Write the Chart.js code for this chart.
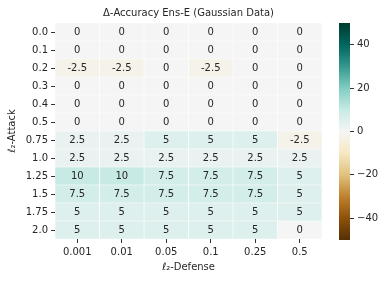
<!DOCTYPE html>
<html>
<head>
<meta charset="utf-8">
<script src="https://cdn.jsdelivr.net/npm/chart.js@4"></script>
<style>
  body { margin: 0; background: #fff; }
  #wrap { position: relative; width: 385px; height: 282px; }
  #wrap canvas { position: absolute; left: 0; top: 0; }
</style>
</head>
<body>
<div id="wrap">
  <canvas id="heat" width="385" height="282"></canvas>
  <canvas id="cbar" width="385" height="282"></canvas>
</div>
<script>
const attackLabels = ["0.0", "0.1", "0.2", "0.3", "0.4", "0.5", "0.75", "1.0", "1.25", "1.5", "1.75", "2.0"];
const defenseLabels = ["0.001", "0.01", "0.05", "0.1", "0.25", "0.5"];

// delta accuracy, one row per attack strength
const deltaAcc = [
  [0, 0, 0, 0, 0, 0],
  [0, 0, 0, 0, 0, 0],
  [-2.5, -2.5, 0, -2.5, 0, 0],
  [0, 0, 0, 0, 0, 0],
  [0, 0, 0, 0, 0, 0],
  [0, 0, 0, 0, 0, 0],
  [2.5, 2.5, 5, 5, 5, -2.5],
  [2.5, 2.5, 2.5, 2.5, 2.5, 2.5],
  [10, 10, 7.5, 7.5, 7.5, 5],
  [7.5, 7.5, 7.5, 7.5, 7.5, 5],
  [5, 5, 5, 5, 5, 5],
  [5, 5, 5, 5, 5, 0],
];

const cbarTicks = [-40, -20, 0, 20, 40];
const vmin = -50, vmax = 50;

// BrBG anchors
const brbg = ["#543005", "#8c510a", "#bf812d", "#dfc27d", "#f6e8c3", "#f5f5f5",
              "#c7eae5", "#80cdc1", "#35978f", "#01665e", "#003c30"];

const textColor = "#262626";
const font = { family: "DejaVu Sans", size: 10 };

function hexRgb(h) {
  return [1, 3, 5].map(i => parseInt(h.slice(i, i + 2), 16));
}

function cmap(v) {
  let t = (v - vmin) / (vmax - vmin) * (brbg.length - 1);
  t = Math.min(Math.max(t, 0), brbg.length - 1);
  const i = Math.min(Math.floor(t), brbg.length - 2);
  const f = t - i;
  const a = hexRgb(brbg[i]), b = hexRgb(brbg[i + 1]);
  const c = a.map((x, k) => Math.round(x + (b[k] - x) * f));
  return `rgb(${c[0]}, ${c[1]}, ${c[2]})`;
}

const cellText = {
  id: "cellText",
  afterDatasetsDraw(chart) {
    const ctx = chart.ctx;
    ctx.save();
    ctx.font = '10px "DejaVu Sans"';
    ctx.fillStyle = textColor;
    ctx.textAlign = "center";
    ctx.textBaseline = "middle";
    chart.data.datasets.forEach((ds, c) => {
      chart.getDatasetMeta(c).data.forEach((bar, r) => {
        ctx.fillText(String(deltaAcc[r][c]), (bar.x + bar.base) / 2, bar.y);
      });
    });
    ctx.restore();
  }
};

new Chart(document.getElementById("heat"), {
  type: "bar",
  data: {
    labels: attackLabels,
    datasets: defenseLabels.map((d, c) => ({
      label: d,
      data: attackLabels.map(() => [c, c + 1]),
      backgroundColor: attackLabels.map((_, r) => cmap(deltaAcc[r][c])),
      borderColor: "#fff",
      borderWidth: 0.6,
      borderSkipped: false,
      grouped: false,
      barPercentage: 1,
      categoryPercentage: 1,
    })),
  },
  options: {
    indexAxis: "y",
    responsive: false,
    animation: false,
    layout: { padding: { right: 63 } },
    plugins: {
      legend: { display: false },
      tooltip: { enabled: false },
      title: {
        display: true,
        fullSize: false,
        text: "Δ-Accuracy Ens-E (Gaussian Data)",
        color: textColor,
        font: { family: "DejaVu Sans", size: 10, weight: "normal" },
        padding: { top: 7, bottom: 4 },
      },
    },
    scales: {
      x: {
        type: "linear",
        min: 0,
        max: defenseLabels.length,
        afterBuildTicks: s => { s.ticks = defenseLabels.map((_, i) => ({ value: i + 0.5 })); },
        afterFit: s => { s.height = 43; },
        grid: { drawOnChartArea: false, tickLength: 4, color: "#333" },
        border: { display: false },
        ticks: {
          autoSkip: false, maxRotation: 0, padding: 3, color: textColor, font,
          callback: v => defenseLabels[Math.floor(v)],
        },
        title: {
          display: true, text: "ℓ₂-Defense", color: textColor, font,
          padding: { top: 0, bottom: 9 },
        },
      },
      y: {
        afterFit: s => { s.width = 55; },
        grid: { offset: false, drawOnChartArea: false, tickLength: 4, color: "#333" },
        border: { display: false },
        ticks: { autoSkip: false, padding: 3, color: textColor, font },
        title: {
          display: true, text: "ℓ₂-Attack", color: textColor, font,
          padding: { top: 6, bottom: 0 },
        },
      },
    },
  },
  plugins: [cellText],
});

new Chart(document.getElementById("cbar"), {
  type: "bar",
  data: {
    labels: [""],
    datasets: [{
      data: [[vmin, vmax]],
      backgroundColor: ctx => {
        const y = ctx.chart.scales.y;
        const y0 = y ? y.getPixelForValue(vmin) : NaN;
        const y1 = y ? y.getPixelForValue(vmax) : NaN;
        if (!isFinite(y0) || !isFinite(y1)) return "#f5f5f5";
        const g = ctx.chart.ctx.createLinearGradient(0, y0, 0, y1);
        brbg.forEach((col, i) => g.addColorStop(i / (brbg.length - 1), col));
        return g;
      },
      borderWidth: 0,
      barPercentage: 1,
      categoryPercentage: 1,
    }],
  },
  options: {
    responsive: false,
    animation: false,
    layout: { padding: { left: 339, top: 23, bottom: 42 } },
    plugins: { legend: { display: false }, tooltip: { enabled: false } },
    scales: {
      x: { display: false },
      y: {
        position: "right",
        min: vmin,
        max: vmax,
        afterBuildTicks: s => { s.ticks = cbarTicks.map(v => ({ value: v })); },
        afterFit: s => { s.width = 35; },
        grid: { drawOnChartArea: false, tickLength: 4, color: "#333" },
        border: { display: false },
        ticks: {
          padding: 3, color: textColor, font,
          callback: v => String(v).replace("-", "\u2212"),
        },
      },
    },
  },
});
</script>
</body>
</html>
